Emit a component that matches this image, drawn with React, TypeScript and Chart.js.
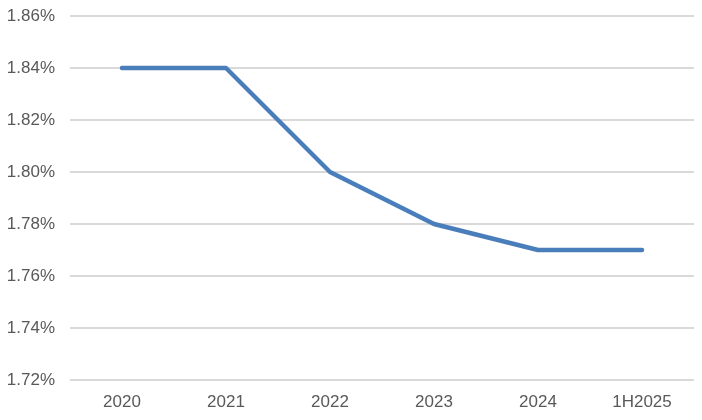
import React, { useEffect, useRef } from "react";
import { Chart, registerables } from "chart.js";

Chart.register(...registerables);

const categories = ["2020", "2021", "2022", "2023", "2024", "1H2025"];
const values = [1.84, 1.84, 1.8, 1.78, 1.77, 1.77];
const yMin = 1.72;
const yMax = 1.86;
const yStep = 0.02;

export default function App() {
  const ref = useRef<HTMLCanvasElement | null>(null);
  useEffect(() => {
    if (!ref.current) return;
    const chart = new Chart(ref.current, {
      type: "line",
      data: {
        labels: categories,
        datasets: [
          {
            data: values,
            borderColor: "#4a7ebb",
            borderWidth: 4.5,
            borderCapStyle: "round",
            borderJoinStyle: "round",
            pointRadius: 0,
            fill: false,
            tension: 0,
          },
        ],
      },
      options: {
        animation: false,
        responsive: false,
        maintainAspectRatio: false,
        layout: { padding: { top: 16, right: 8, left: 0, bottom: 0 } },
        plugins: { legend: { display: false }, tooltip: { enabled: false } },
        scales: {
          x: {
            offset: true,
            grid: { display: false, drawTicks: false },
            border: { display: false },
            ticks: {
              color: "#595959",
              font: { family: "'Liberation Sans', Arial, sans-serif", size: 17 },
              padding: 12,
              maxRotation: 0,
            },
            afterFit: (s: any) => {
              s.height = 40;
              s.paddingLeft = 0;
              s.paddingRight = 0;
            },
          },
          y: {
            min: yMin,
            max: yMax,
            grid: { color: "#d9d9d9", lineWidth: 2, drawTicks: false },
            border: { display: false },
            ticks: {
              stepSize: yStep,
              color: "#595959",
              font: { family: "'Liberation Sans', Arial, sans-serif", size: 17 },
              padding: 15,
              callback: (v: any) => Number(v).toFixed(2) + "%",
            },
            afterFit: (s: any) => {
              s.width = 70;
              s.paddingTop = 0;
              s.paddingBottom = 0;
            },
          },
        },
      },
    });
    return () => chart.destroy();
  }, []);
  return (
    <div style={{ position: "fixed", left: 0, top: 0, width: 702, height: 420, background: "#fff" }}>
      <canvas ref={ref} width={702} height={420} style={{ width: 702, height: 420 }} />
    </div>
  );
}
